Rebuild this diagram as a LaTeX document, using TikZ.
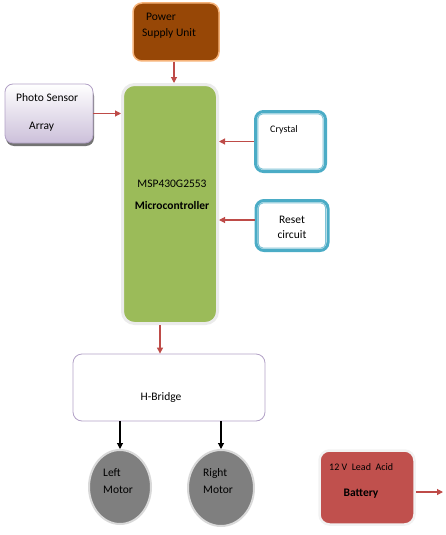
\documentclass[tikz,border=0pt]{standalone}
\usepackage{fontspec}
\setmainfont{Carlito}
\usetikzlibrary{arrows.meta,shapes.geometric}
\definecolor{psufill}{HTML}{974706}
\definecolor{psuedge}{HTML}{F6B37A}
\definecolor{mcufill}{HTML}{9BBB59}
\definecolor{glow}{HTML}{EBEBEB}
\definecolor{lav}{HTML}{CCC0DA}
\definecolor{lavedge}{HTML}{B3A2C7}
\definecolor{teal}{HTML}{4BACC6}
\definecolor{tealin}{HTML}{7FC3D6}
\definecolor{arrred}{HTML}{BE4B48}
\definecolor{motor}{HTML}{7F7F7F}
\definecolor{motoredge}{HTML}{D9D9D9}
\definecolor{batt}{HTML}{C0504D}
\definecolor{battedge}{HTML}{F2F2F2}
\tikzset{
  box/.style={rectangle, rounded corners=9pt, inner sep=0pt},
  txt/.style={inner sep=0pt, font=\fontsize{11.5}{13}\selectfont, text=black},
  arr/.style={draw=arrred, line width=1.1pt, -{Triangle[length=6pt,width=6pt]}},
  barr/.style={draw=black, line width=1.1pt, -{Triangle[length=6pt,width=6pt]}},
  tealbox/.style={rectangle, rounded corners=8pt, inner sep=0pt, draw=teal, line width=3pt, fill=white},
  motorshape/.style={ellipse, inner sep=0pt, fill=motor, draw=motoredge, line width=2pt}
}
\begin{document}
\begin{tikzpicture}[x=1pt,y=-1pt]
\useasboundingbox (0,0) rectangle (446,535);

% Power supply unit
\node[box, fill=psufill, draw=psuedge, line width=1.5pt, minimum width=86pt, minimum height=58pt] (psu) at (176,32) {};
\node[txt, anchor=west] (psut1) at (146,17) {Power};
\node[txt, anchor=west] (psut2) at (142,33) {Supply Unit};

% Microcontroller
\node[box, fill=mcufill, draw=glow, line width=3pt, rounded corners=12pt, minimum width=95pt, minimum height=239pt] (mcu) at (170,204) {};
\node[txt] (mcut1) at (172,184) {MSP430G2553};
\node[txt, font=\fontsize{11.5}{13}\selectfont\bfseries] (mcut2) at (172,206) {Microcontroller};

% Photo sensor array
\fill[black!55, rounded corners=8pt] (6,88) rectangle (94,146);
\node[box, rounded corners=8pt, top color=white, bottom color=lav, draw=lavedge, line width=0.8pt, minimum width=88pt, minimum height=59pt] (photo) at (49,113.5) {};
\node[txt, anchor=west] (photot1) at (16,98) {Photo Sensor};
\node[txt, anchor=west] (photot2) at (29,127) {Array};

% Crystal
\node[tealbox, minimum width=70pt, minimum height=60pt] (crystal) at (290.5,141.5) {};
\draw[tealin, line width=1pt, rounded corners=5pt] ([shift={(3.8pt,3.8pt)}]crystal.south west) rectangle ([shift={(-3.8pt,-3.8pt)}]crystal.north east);
\node[txt, anchor=west, font=\fontsize{10}{12}\selectfont] (crystalt) at (270,130) {Crystal};

% Reset circuit
\node[tealbox, minimum width=72pt, minimum height=50pt] (reset) at (292,225.5) {};
\draw[tealin, line width=1pt, rounded corners=5pt] ([shift={(3.8pt,3.8pt)}]reset.south west) rectangle ([shift={(-3.8pt,-3.8pt)}]reset.north east);
\node[txt] (resett1) at (292,220) {Reset};
\node[txt] (resett2) at (292,235) {circuit};

% H-Bridge
\node[box, fill=white, draw=lavedge, line width=0.8pt, rounded corners=9pt, minimum width=192pt, minimum height=67pt] (hb) at (169,387.5) {};
\node[txt] (hbt) at (161,397) {H-Bridge};

% Motors
\node[motorshape, minimum width=62pt, minimum height=74pt] (lm) at (120,487) {};
\node[txt, anchor=west] (lmt1) at (103,473) {Left};
\node[txt, anchor=west] (lmt2) at (103,490) {Motor};
\node[motorshape, minimum width=66pt, minimum height=76pt] (rm) at (221,488) {};
\node[txt, anchor=west] (rmt1) at (203,473) {Right};
\node[txt, anchor=west] (rmt2) at (203,490) {Motor};

% Battery
\node[box, fill=batt, draw=battedge, line width=2.5pt, rounded corners=10pt, minimum width=95pt, minimum height=74pt] (batt) at (367,487.5) {};
\node[txt, anchor=west, font=\fontsize{10}{12}\selectfont] (battt1) at (329,467) {12 V\ \ Lead\ \ Acid};
\node[txt, font=\fontsize{11.5}{13}\selectfont\bfseries] (battt2) at (361,494) {Battery};
\coordinate (battout) at (443,492);

% Connectors
\draw[arr] ([xshift=-2pt]psu.south) -- ([xshift=-2pt]psu.south |- mcu.north);
\draw[arr] (photo.east) -- (photo.east -| mcu.west);
\draw[arr] (crystal.west) -- (crystal.west -| mcu.east);
\draw[arr] ([yshift=5.5pt]reset.west) -- ([yshift=5.5pt]reset.west -| mcu.east);
\draw[arr] ([xshift=-10pt]mcu.south) -- ([xshift=-10pt]mcu.south |- hb.north);
\draw[barr] (hb.south -| lm.north) -- (lm.north);
\draw[barr] (hb.south -| rm.north) -- (rm.north);
\draw[arr] ([yshift=-4.5pt]batt.east) -- (battout);
\end{tikzpicture}
\end{document}
